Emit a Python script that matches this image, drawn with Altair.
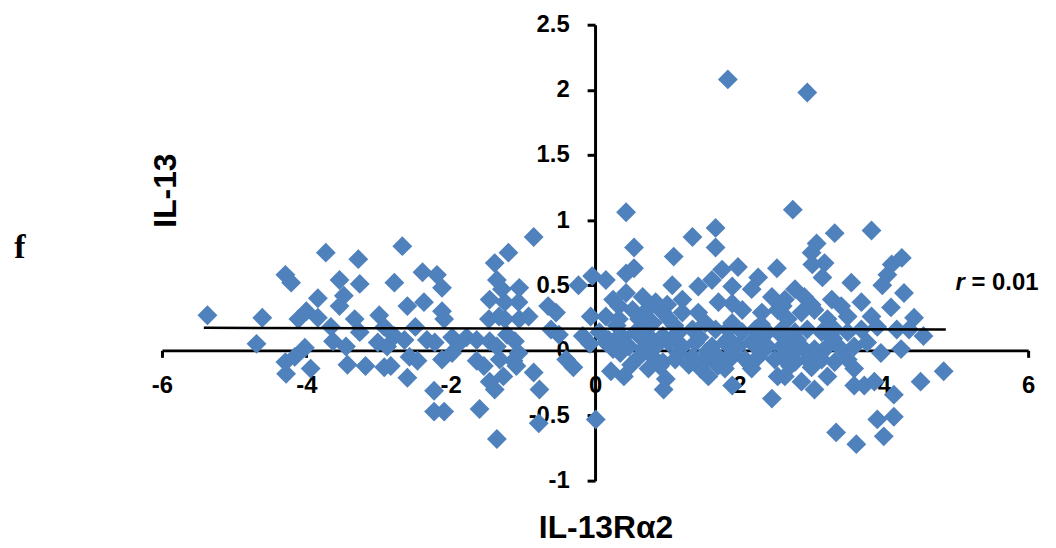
import altair as alt
import pandas as pd

# ---- data (IL-13Rα2 vs IL-13) ----
left_x = [-5.37, -4.61, -4.69, -4.29, -4.21, -3.73, -3.28, -3.54, -3.26, -3.84, -3.48, -3.54, -4.00, -4.11, -3.84, -3.66,
          -3.33, -3.26, -2.99, -2.92, -3.63, -3.45, -4.02, -4.16, -4.29, -4.28, -3.94, -3.43, -3.18, -2.92, -3.01, -2.88]
left_y = [0.27, 0.25, 0.05, 0.58, 0.52, 0.75, 0.70, 0.54, 0.51, 0.40, 0.42, 0.34, 0.30, 0.24, 0.25, 0.18,
          0.24, 0.14, 0.27, 0.18, 0.07, 0.03, 0.02, -0.05, -0.09, -0.18, -0.14, -0.11, -0.12, -0.13, 0.06, 0.03]

midleft_x = [-2.67, -2.78, -2.39, -2.19, -2.12, -2.60, -2.37, -2.12, -2.09, -2.49, -2.33, -2.78, -2.64, -2.83, -2.57, -2.46,
             -2.60, -2.22, -2.12, -1.98, -1.89, -1.98, -1.78, -1.64, -1.64, -1.54, -2.23, -2.23, -2.09, -1.60, -1.36, -1.39,
             -1.20, -0.85, -1.36, -1.46, -1.29, -1.25, -1.05, -1.06, -1.47, -1.33, -1.25, -1.05, -0.92, -1.46, -1.36, -1.22,
             -1.11, -1.06, -1.32, -1.13, -1.09, -1.46, -1.39, -1.27, -0.85, -0.77, -0.78, -0.65, -0.54, -0.61, -0.50, -0.40,
             -0.30, -0.23, -0.17, -0.04, -0.06, -0.07]
midleft_y = [0.80, 0.52, 0.60, 0.58, 0.48, 0.34, 0.37, 0.30, 0.24, 0.18, 0.08, 0.11, 0.08, -0.12, -0.05, -0.08,
             -0.21, 0.06, -0.07, 0.10, 0.05, -0.02, 0.10, 0.08, -0.08, -0.12, -0.31, -0.47, -0.47, -0.45, -0.68, 0.67,
             0.75, 0.87, 0.54, 0.39, 0.47, 0.37, 0.48, 0.37, 0.24, 0.26, 0.24, 0.24, 0.26, 0.07, 0.03, 0.12,
             0.07, -0.02, -0.07, -0.08, -0.12, -0.24, -0.30, -0.20, -0.17, -0.30, -0.56, 0.34, 0.29, 0.16, 0.12, -0.07,
             -0.13, 0.50, 0.11, 0.57, 0.26, 0.05]

midright_x = [0.43, 0.54, 0.43, 0.54, 1.09, 1.35, 1.67, 1.67, 1.98, 1.07, 1.90,
              0.15, 0.25, 0.43, 0.66, 0.84, 0.33, 0.52, 0.70, 0.94, 1.21, 1.43, 1.62, 1.76, 2.26, 2.52, 2.17, 2.45,
              1.21, 1.43, 1.71, 2.04, 2.31, 2.53,
              0.15, 0.33, 0.61, 0.80, 1.02,
              0.06, 0.19, 0.39, 0.56, 0.74, 0.94, 1.16, 1.35, 1.53, 1.67, 1.84, 2.04, 2.22, 2.39, 2.59,
              0.15, 0.25, 0.47, 0.66, 0.84, 1.02, 1.21, 1.39, 1.62, 1.80, 1.98, 2.17, 2.39, 2.59,
              0.61, 0.80, 0.74, 0.94, 1.11, 1.35, 1.53, 1.71, 1.90, 2.08, 2.26, 2.49,
              0.22, 0.40, 0.98, 0.95, 1.46, 1.57, 1.80, 1.90, 2.17, 2.45, 2.53, 0.01]
midright_y = [1.06, 0.79, 0.59, 0.63, 0.72, 0.87, 0.94, 0.79, 0.64, 0.50, 0.49,
              0.54, 0.39, 0.44, 0.41, 0.37, 0.34, 0.31, 0.30, 0.29, 0.39, 0.49, 0.54, 0.62, 0.56, 0.63, 0.47, 0.41,
              0.29, 0.29, 0.37, 0.31, 0.29, 0.31,
              0.26, 0.24, 0.24, 0.21, 0.24,
              0.14, 0.08, 0.10, 0.14, 0.11, 0.11, 0.14, 0.16, 0.21, 0.16, 0.16, 0.14, 0.16, 0.14, 0.16,
              0.06, 0.01, 0.03, 0.01, 0.03, 0.06, 0.03, 0.06, 0.03, 0.06, 0.03, 0.06, 0.03, 0.03,
              -0.05, -0.05, -0.14, -0.09, -0.07, -0.05, -0.07, -0.05, -0.05, -0.07, -0.05, -0.07,
              -0.16, -0.20, -0.22, -0.30, -0.14, -0.20, -0.14, -0.27, -0.14, -0.37, -0.20, -0.53]

# points hidden inside the dense cluster (estimated from the solid blue area)
cluster_x = [0.30, 0.70, 1.10, 1.90, 2.30, 0.30, 0.65, 1.05, 1.45, 1.85, 2.30, 2.80, 3.30,
             0.35, 0.75, 1.15, 1.55, 1.90, 2.30, 2.75, 3.15, 0.50, 0.90, 1.30, 1.70, 2.15, 2.70, 3.00,
             1.00, 1.90, 2.60, 3.00]
cluster_y = [0.19, 0.19, 0.19, 0.21, 0.20, 0.09, 0.09, 0.08, 0.10, 0.09, 0.09, 0.08, 0.09,
             -0.02, -0.01, -0.02, -0.01, -0.02, -0.01, -0.02, -0.01, -0.11, -0.12, -0.11, -0.12, -0.11, -0.12, -0.13,
             0.35, 0.36, 0.34, 0.35]

right_x = [2.74, 3.32, 3.83, 3.07, 3.00, 3.18, 3.01, 3.15, 4.25, 4.11, 4.05, 3.98, 3.55, 4.28, 3.69, 4.10,
           2.77, 2.63, 2.90, 3.28, 3.41, 3.04, 2.86, 2.67, 3.22, 3.50, 3.83, 4.42, 4.35, 4.55, 4.18, 3.91,
           3.69, 3.50, 3.32, 3.14, 2.94, 2.77, 2.59, 2.67, 2.86, 3.04, 3.22, 3.41, 3.59, 3.77, 3.96, 4.24,
           2.59, 2.77, 2.94, 3.14, 3.32, 3.50, 3.59, 2.63, 2.86, 3.04, 3.22, 3.59, 3.73, 3.87, 4.14, 4.51,
           4.83, 3.91, 4.14, 3.34, 4.00, 3.62]
right_y = [1.08, 0.90, 0.92, 0.82, 0.75, 0.67, 0.66, 0.56, 0.71, 0.66, 0.58, 0.50, 0.52, 0.44, 0.37, 0.33,
           0.47, 0.39, 0.41, 0.39, 0.34, 0.31, 0.29, 0.24, 0.24, 0.26, 0.26, 0.25, 0.16, 0.11, 0.16, 0.18,
           0.16, 0.14, 0.16, 0.14, 0.16, 0.14, 0.11, 0.03, 0.03, 0.01, 0.03, 0.01, 0.03, 0.06, -0.02, 0.01,
           -0.05, -0.09, -0.07, -0.07, -0.09, -0.07, -0.14, -0.20, -0.24, -0.30, -0.20, -0.27, -0.27, -0.24, -0.34, -0.24,
           -0.16, -0.53, -0.51, -0.63, -0.66, -0.72]

outlier_x = [1.84, 2.94]
outlier_y = [2.08, 1.98]

# fitted trend line (end points)
fit_x = [-5.42, 4.86]
fit_y = [0.173, 0.160]

x_ticks = [-6, -4, -2, 0, 2, 4, 6]
y_ticks = [-1, -0.5, 0, 0.5, 1, 1.5, 2, 2.5]

x_all = left_x + midleft_x + midright_x + cluster_x + right_x + outlier_x
y_all = left_y + midleft_y + midright_y + cluster_y + right_y + outlier_y
pts = pd.DataFrame({"x": x_all, "y": y_all})
fit = pd.DataFrame({"x": fit_x, "y": fit_y})

W, H = 872, 459
FONT = "Liberation Sans"
BLUE = "#4F81BD"

xscale = alt.Scale(domain=[-6, 6], nice=False, zero=False)
yscale = alt.Scale(domain=[-1, 2.5], nice=False, zero=False)

x_axis = alt.Axis(values=x_ticks, offset=-(H * 1.0 / 3.5), title="", grid=False,
                  domainColor="black", domainWidth=3, tickColor="black", tickWidth=3, tickSize=7,
                  labelFont=FONT, labelFontWeight="bold", labelFontSize=24, labelColor="black",
                  labelPadding=16, labelFlush=False, labelOverlap=False, labelExpr="'' + datum.value")
y_axis = alt.Axis(values=y_ticks, offset=-(W / 2.0), title="", grid=False,
                  domainColor="black", domainWidth=3, tickColor="black", tickWidth=3, tickSize=8,
                  labelFont=FONT, labelFontWeight="bold", labelFontSize=24, labelColor="black",
                  labelPadding=18, labelFlush=False, labelOverlap=False, labelExpr="'' + datum.value")

points = alt.Chart(pts).mark_point(shape="diamond", filled=True, size=400, color=BLUE,
                                   opacity=1, strokeWidth=0).encode(
    x=alt.X("x:Q", scale=xscale, axis=x_axis),
    y=alt.Y("y:Q", scale=yscale, axis=y_axis),
)

line = alt.Chart(fit).mark_line(color="black", strokeWidth=2.5).encode(
    x=alt.X("x:Q", scale=xscale),
    y=alt.Y("y:Q", scale=yscale),
)

def label(text, x, y, **kw):
    return alt.Chart(pd.DataFrame({"t": [text]})).mark_text(**kw).encode(
        text="t:N", x=alt.value(x), y=alt.value(y))

y_title = label("IL-13", 14, 167, angle=270, align="center", baseline="alphabetic",
                font=FONT, fontWeight="bold", fontSize=32, color="black")
x_title = label("IL-13R\u03b12", 447, 517, align="center", baseline="alphabetic",
                font=FONT, fontWeight="bold", fontSize=32, color="black")
panel = label("f", -143, 235, align="center", baseline="alphabetic",
              font="Liberation Serif", fontWeight="bold", fontSize=34, color="black")
r_sym = label("r", 799, 267, align="left", baseline="alphabetic",
              font=FONT, fontWeight="bold", fontStyle="italic", fontSize=24, color="black")
r_val = label("= 0.01", 815, 267, align="left", baseline="alphabetic",
              font=FONT, fontWeight="bold", fontSize=24, color="black")

chart = alt.layer(points, line, y_title, x_title, panel, r_sym, r_val).properties(
    width=W, height=H,
    autosize=alt.AutoSizeParams(type="none"),
    padding={"left": 155, "top": 15, "right": 20, "bottom": 66},
).configure_view(stroke=None)

chart.save("out.html", embed_options={"renderer": "svg", "actions": False})
